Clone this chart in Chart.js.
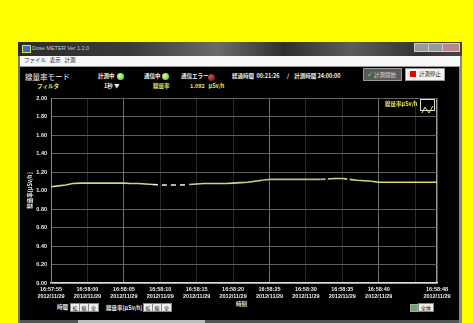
<!DOCTYPE html>
<html>
<head>
<meta charset="utf-8">
<script src="https://cdn.jsdelivr.net/npm/chart.js@4.4.0/dist/chart.umd.min.js"></script>
<style>
  body { margin: 0; width: 473px; height: 323px; background: #ffff00; position: relative; overflow: hidden;
         font-family: "Noto Sans CJK JP", "DejaVu Sans", sans-serif; }
  .abs { position: absolute; white-space: nowrap; line-height: 1; }
  #win { left: 18px; top: 42px; width: 444px; height: 281px; background: #000; }
  #titlebar { left: 18px; top: 42px; width: 444px; height: 14px;
     background: linear-gradient(90deg, #2b2b2b 0%, #3a3a3a 25%, #6a6a6a 45%, #2e2e2e 60%, #5c5c5c 75%, #333 90%, #444 100%); }
  #menubar { left: 20px; top: 56px; width: 440px; height: 10px; background: #f7f7f7; border-bottom: 1px solid #999; }
  .w { color: #eee; font-size: 5.5px; font-weight: bold; }
  .y { color: #e8e85a; font-size: 5.5px; font-weight: bold; }
  .dot { position: absolute; width: 7px; height: 7px; border-radius: 50%; }
  .sbtn { position: absolute; background: #eee; color: #111; font-size: 5px; height: 7px; line-height: 7px;
          text-align: center; border: 1px solid #888; }
  canvas { position: absolute; left: 0; top: 0; }
</style>
</head>
<body>
<div id="win" class="abs"></div>
<div class="abs" style="left:18px;top:56px;width:2px;height:267px;background:#777"></div>
<div class="abs" style="left:459px;top:56px;width:3px;height:267px;background:#888"></div>
<div class="abs" style="left:20px;top:320px;width:439px;height:3px;background:#555"></div>
<div class="abs" style="left:78px;top:320px;width:127px;height:3px;background:#bbb"></div>
<div id="titlebar" class="abs"></div>
<div class="abs" style="left:22px;top:45px;width:7px;height:6px;background:#3a6fc0;border:1px solid #dd4"></div>
<div class="abs" style="left:32px;top:46px;color:#ccc;font-size:5.5px;font-family:'Liberation Sans'">Dose METER Ver 1.2.0</div>
<div class="abs" style="left:414px;top:43px;width:13px;height:7px;background:#999;border:1px solid #ccc"></div>
<div class="abs" style="left:428px;top:43px;width:13px;height:7px;background:#999;border:1px solid #ccc"></div>
<div class="abs" style="left:442px;top:43px;width:16px;height:7px;background:#b88;border:1px solid #ccc"></div>
<div id="menubar" class="abs"></div>
<div class="abs" style="left:24px;top:58px;color:#222;font-size:5.5px">ファイル&nbsp;&nbsp;&nbsp;表示&nbsp;&nbsp;&nbsp;計測</div>

<div class="abs" style="left:25px;top:73px;color:#eee;font-size:7.5px">線量率モード</div>
<div class="abs w" style="left:98px;top:74px">計測中</div>
<div class="dot" style="left:117px;top:73px;background:radial-gradient(circle at 35% 35%, #d8ff9a, #4ec21c)"></div>
<div class="abs w" style="left:144px;top:74px">通信中</div>
<div class="dot" style="left:162px;top:73px;background:radial-gradient(circle at 35% 35%, #d8ff9a, #4ec21c)"></div>
<div class="abs w" style="left:181px;top:74px">通信エラー</div>
<div class="dot" style="left:208px;top:74px;background:radial-gradient(circle at 35% 35%, #c55, #5a0a0a)"></div>
<div class="abs w" style="left:232px;top:74px">経過時間&nbsp; 00:21:26&nbsp;&nbsp;&nbsp;&nbsp;&nbsp; /&nbsp;&nbsp;&nbsp; 計測時間 24:00:00</div>
<div class="abs" style="left:363px;top:68px;width:37px;height:11px;background:#5a5a5a;border:1px solid #999;color:#ddd;font-size:5.5px;line-height:11px">
  <span style="color:#4c4;font-size:7px;margin-left:3px">✔</span> 計測開始</div>
<div class="abs" style="left:405px;top:68px;width:38px;height:11px;background:#f4f4f4;border:1px solid #999;color:#222;font-size:5.5px;line-height:11px">
  <span style="display:inline-block;width:6px;height:6px;background:#e00;margin:0 3px 0 4px;vertical-align:-1px"></span>計測停止</div>
<div class="abs y" style="left:37px;top:84px">フィルタ</div>
<div class="abs w" style="left:104px;top:84px">1秒 ▼</div>
<div class="abs y" style="left:153px;top:84px">線量率</div>
<div class="abs y" style="left:190px;top:84px">1.092&nbsp;&nbsp; μSv/h</div>

<div class="abs w" style="left:57px;top:305px">時間</div>
<div class="sbtn" style="left:70px;top:303px;width:8px">拡</div>
<div class="sbtn" style="left:79px;top:303px;width:8px">縮</div>
<div class="sbtn" style="left:88px;top:303px;width:9px">全</div>
<div class="abs w" style="left:106px;top:306px">線量率[μSv/h]</div>
<div class="sbtn" style="left:143px;top:303px;width:8px">拡</div>
<div class="sbtn" style="left:152px;top:303px;width:8px">縮</div>
<div class="sbtn" style="left:161px;top:303px;width:9px">全</div>
<div class="abs w" style="left:236px;top:302px">時刻</div>
<div class="abs" style="left:410px;top:304px;width:6px;height:6px;background:#6a6;border:1px solid #aaa"></div>
<div class="sbtn" style="left:418px;top:303px;width:14px">全体</div>

<canvas id="chart" width="473" height="323"></canvas>

<div class="abs y" style="left:385px;top:102px;z-index:2">線量率μSv/h</div>
<div class="abs" style="left:420px;top:99px;width:13px;height:10px;border:1px solid #ddd;z-index:2">
  <svg width="13" height="10"><polyline points="1,8 4,2 8,8 12,1" fill="none" stroke="#e8e85a" stroke-width="1"/></svg>
</div>

<script>
// seconds after 16:57:55 on 2012/11/29
const seconds = [0, 1, 2, 3, 4, 5, 6, 7, 8, 9, 10, 11, 12, 13, 14, 15, 16, 17, 18, 19, 20, 21, 22, 23, 24, 25, 26,
  27, 28, 29, 30, 31, 32, 33, 34, 35, 36, 37, 38, 39, 40, 41, 42, 43, 44, 45, 46, 47, 48, 49, 50, 51, 52, 53];
const doseRate = [1.04, 1.05, 1.06, 1.075, 1.08, 1.08, 1.08, 1.08, 1.08, 1.08, 1.08, 1.075, 1.075, 1.07, 1.065,
  1.06, 1.06, 1.06, 1.06, 1.065, 1.07, 1.075, 1.075, 1.075, 1.075, 1.08, 1.085, 1.09, 1.10, 1.11, 1.12, 1.12,
  1.12, 1.12, 1.12, 1.12, 1.12, 1.12, 1.125, 1.13, 1.13, 1.12, 1.11, 1.105, 1.10, 1.09, 1.09, 1.09, 1.09, 1.09,
  1.09, 1.09, 1.09, 1.09];

const tickSecs = [0, 5, 10, 15, 20, 25, 30, 35, 40, 45, 50, 53];
const tickTimes = ['16:57:55', '16:58:00', '16:58:05', '16:58:10', '16:58:15', '16:58:20', '16:58:25',
  '16:58:30', '16:58:35', '16:58:40', '', '16:58:48'];
const tickDates = ['2012/11/29', '2012/11/29', '2012/11/29', '2012/11/29', '2012/11/29', '2012/11/29',
  '2012/11/29', '2012/11/29', '2012/11/29', '2012/11/29', '', '2012/11/29'];
const yTicks = [0, 0.2, 0.4, 0.6, 0.8, 1.0, 1.2, 1.4, 1.6, 1.8, 2.0];

const brightX = [10, 30, 45, 53];

const points = seconds.map((s, i) => ({ x: s, y: doseRate[i] }));

function segColor(ctx) {
  const s = ctx.p0.parsed.x;
  if (s >= 14 && s < 19) return '#f2f2f2';
  if (s >= 29 && s < 38) return '#b8b89a';
  if (s >= 44) return '#dede5a';
  return '#d4d484';
}
function segDash(ctx) {
  const s = ctx.p0.parsed.x;
  if ((s >= 14 && s < 19) || s == 37 || s == 40) return [5, 4];
  return undefined;
}

const tickFont = { size: 5.5, weight: 'bold', family: 'Liberation Sans', lineHeight: 1.25 };

const ctx = document.getElementById('chart').getContext('2d');
graph = new Chart(ctx, {
  type: 'line',
  data: {
    datasets: [{
      label: '線量率μSv/h',
      data: points,
      borderColor: '#d4d484',
      borderWidth: 1.6,
      pointRadius: 0,
      tension: 0,
      segment: { borderColor: segColor, borderDash: segDash }
    }]
  },
  options: {
    responsive: false,
    animation: false,
    devicePixelRatio: 1,
    layout: { padding: { left: 17, top: 98, right: 36, bottom: 20 } },
    plugins: { legend: { display: false }, tooltip: { enabled: false } },
    scales: {
      x: {
        type: 'linear',
        min: 0,
        max: 53,
        afterBuildTicks: sc => { sc.ticks = tickSecs.map(v => ({ value: v })); },
        afterFit: sc => { sc.height = 20; },
        ticks: {
          autoSkip: false,
          maxRotation: 0,
          padding: 3,
          color: '#eeeeee',
          font: tickFont,
          callback: (v, i) => [tickTimes[i], tickDates[i]]
        },
        grid: {
          drawTicks: false,
          color: c => {
            const v = c.tick && c.tick.value;
            if (v === 0) return 'rgba(0,0,0,0)';
            if (v === 53) return '#9a9a9a';
            return brightX.includes(v) ? '#6e6e6e' : '#2a2a2a';
          },
          lineWidth: c => (c.tick && c.tick.value === 53) ? 1.5 : 1
        },
        border: { color: '#dddddd', width: 1.5 }
      },
      y: {
        min: 0,
        max: 2,
        afterBuildTicks: sc => { sc.ticks = yTicks.map(v => ({ value: v })); },
        afterFit: sc => { sc.width = 34; },
        ticks: {
          padding: 4,
          color: '#eeeeee',
          font: tickFont,
          callback: v => v.toFixed(2)
        },
        grid: {
          drawTicks: false,
          color: c => (c.tick && Math.abs(c.tick.value - 1) < 1e-6) ? 'rgba(0,0,0,0)' : '#606060'
        },
        border: { color: '#8a8a8a', width: 1 },
        title: {
          display: true,
          text: '線量率[μSv/h]',
          color: '#eeeeee',
          font: { size: 5.5, weight: 'bold', family: 'Noto Sans CJK JP' },
          padding: { top: 10, bottom: 0 }
        }
      }
    }
  }
});
</script>
</body>
</html>
